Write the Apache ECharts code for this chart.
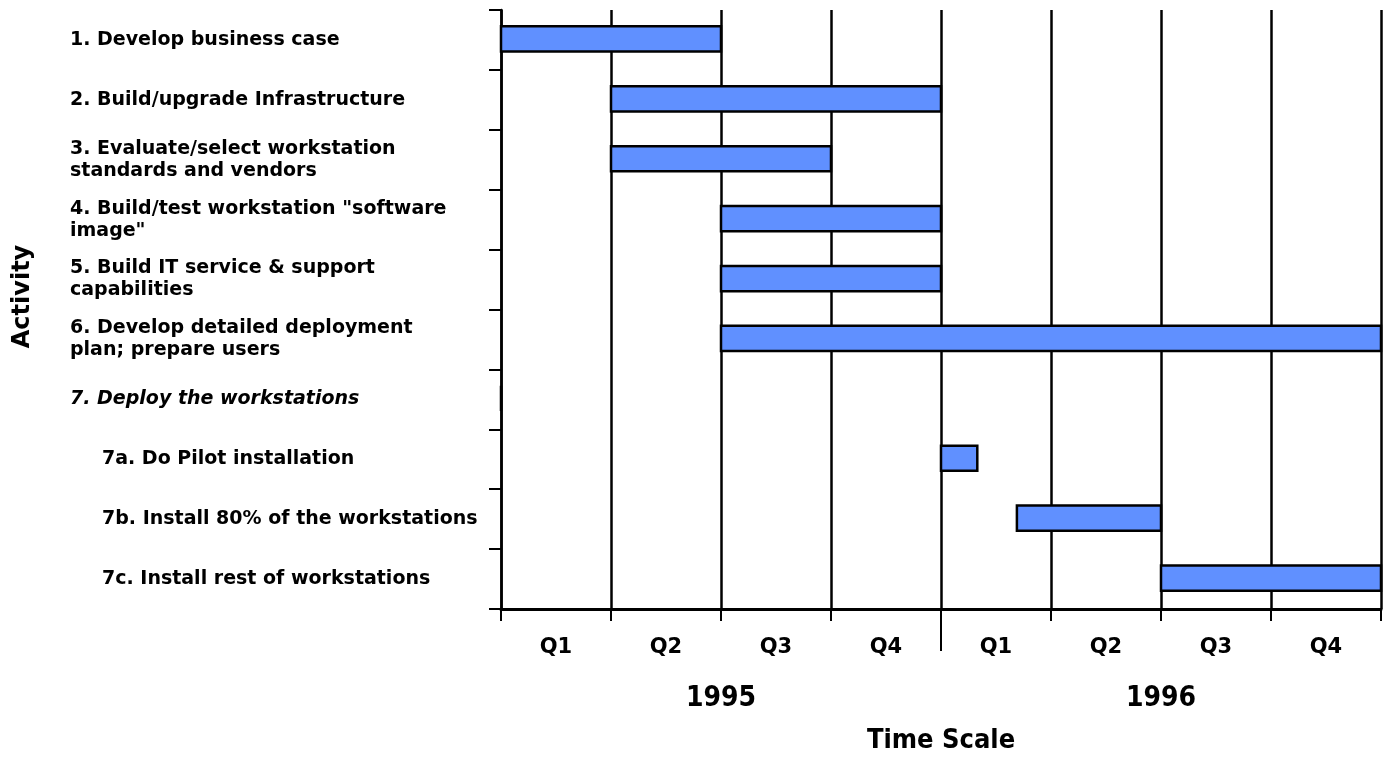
<!DOCTYPE html>
<html>
<head>
<meta charset="utf-8">
<script src="https://cdn.jsdelivr.net/npm/echarts@6/dist/echarts.min.js"></script>
<style>
  html, body { margin: 0; padding: 0; background: #fff; }
  #chart { width: 1387px; height: 759px; }
</style>
</head>
<body>
<div id="chart"></div>
<script>
// activity rows, top to bottom
const activities = [
  '1. Develop business case',
  '2. Build/upgrade Infrastructure',
  '3. Evaluate/select workstation\nstandards and vendors',
  '4. Build/test workstation "software\nimage"',
  '5. Build IT service & support\ncapabilities',
  '6. Develop detailed deployment\nplan; prepare users',
  '7. Deploy the workstations',
  '7a. Do Pilot installation',
  '7b. Install 80% of the workstations',
  '7c. Install rest of workstations'
];
// start / end in quarters from Q1 1995
const startQ = [0, 1, 1, 2, 2, 2, 0, 4, 4.69, 6];
const endQ = [2, 4, 3, 4, 4, 8, 0, 4.33, 6, 8];

const quarterLabels = ['Q1', 'Q2', 'Q3', 'Q4', 'Q1', 'Q2', 'Q3', 'Q4'];
const yearLabels = ['1995', '1996'];

const FONT = 'DejaVu Sans';
const NARROW = '"Liberation Sans Narrow", "Arial Narrow", "DejaVu Sans Condensed", "DejaVu Sans"';
const BAR_COLOR = '#6090FF';

const chart = echarts.init(document.getElementById('chart'));

const labelStyle = { fontFamily: FONT, fontWeight: 'bold', fontSize: 19, lineHeight: 22, color: '#000' };

const option = {
  backgroundColor: '#fff',
  animation: false,
  grid: { left: 501, right: 6, top: 10, bottom: 148 },
  xAxis: [
    {
      type: 'value',
      min: 0,
      max: 8,
      interval: 1,
      position: 'bottom',
      axisLine: { show: true, lineStyle: { color: '#000', width: 3 } },
      axisTick: { show: true, length: 12, lineStyle: { color: '#000', width: 2 } },
      splitLine: { show: true, lineStyle: { color: '#000', width: 2.5 } },
      axisLabel: {
        customValues: [0.5, 1.5, 2.5, 3.5, 4.5, 5.5, 6.5, 7.5],
        formatter: (v) => quarterLabels[Math.floor(v)],
        margin: 28,
        fontFamily: FONT,
        fontWeight: 'bold',
        fontSize: 21,
        color: '#000'
      },
      name: 'Time Scale',
      nameLocation: 'middle',
      nameGap: 118,
      nameTextStyle: { fontFamily: NARROW, fontWeight: 'bold', fontSize: 27, color: '#000' }
    },
    {
      type: 'value',
      min: 0,
      max: 8,
      interval: 4,
      position: 'bottom',
      axisLine: { show: false },
      axisTick: { show: true, customValues: [4], length: 42, lineStyle: { color: '#000', width: 2 } },
      splitLine: { show: false },
      axisLabel: {
        customValues: [2, 6],
        formatter: (v) => yearLabels[Math.floor(v / 4)],
        margin: 76,
        fontFamily: NARROW,
        fontWeight: 'bold',
        fontSize: 28,
        color: '#000'
      }
    }
  ],
  yAxis: {
    type: 'category',
    inverse: true,
    data: activities,
    axisLine: { show: true, lineStyle: { color: '#000', width: 2.5 } },
    axisTick: { show: true, length: 12, lineStyle: { color: '#000', width: 2 } },
    splitLine: { show: false },
    axisLabel: {
      align: 'left',
      margin: 431,
      formatter: (value, index) => {
        const tag = index === 6 ? 'it' : (index > 6 ? 'sub' : 'main');
        return value.split('\n').map((line) => '{' + tag + '|' + line + '}').join('\n');
      },
      rich: {
        main: labelStyle,
        it: Object.assign({}, labelStyle, { fontStyle: 'italic' }),
        sub: Object.assign({}, labelStyle, { padding: [0, 0, 0, 32] })
      }
    },
    name: 'Activity',
    nameLocation: 'middle',
    nameRotate: 90,
    nameGap: 466,
    nameTextStyle: { fontFamily: FONT, fontWeight: 'bold', fontSize: 24, color: '#000', padding: [0, 0, 0, 26] }
  },
  series: [
    {
      type: 'custom',
      xAxisIndex: 0,
      encode: { x: [1, 2], y: 0 },
      data: activities.map((a, i) => [i, startQ[i], endQ[i]]),
      renderItem: (params, api) => {
        const row = api.value(0);
        const p0 = api.coord([api.value(1), row]);
        const p1 = api.coord([api.value(2), row]);
        const h = api.size([0, 1])[1] * 0.42;
        return {
          type: 'rect',
          shape: { x: p0[0], y: p0[1] - h / 2 - 1, width: p1[0] - p0[0], height: h },
          style: { fill: BAR_COLOR, stroke: '#000', lineWidth: 2.5 }
        };
      }
    }
  ]
};

chart.setOption(option);
</script>
</body>
</html>
